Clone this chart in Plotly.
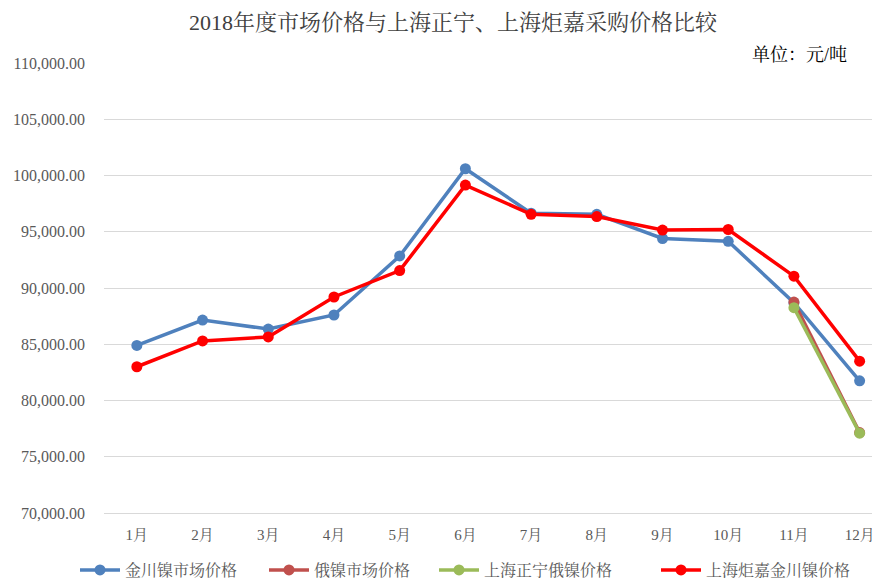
import plotly.graph_objects as go

months = ["1月", "2月", "3月", "4月", "5月", "6月", "7月", "8月", "9月", "10月", "11月", "12月"]
jinchuan_market = [84900, 87150, 86350, 87600, 92850, 100600, 96650, 96550, 94400, 94150, 88700, 81750]
russia_market = [None, None, None, None, None, None, None, None, None, None, 88750, 77150]
zhengning_russia = [None, None, None, None, None, None, None, None, None, None, 88250, 77100]
juja_jinchuan = [83000, 85300, 85650, 89200, 91550, 99150, 96550, 96350, 95150, 95200, 91050, 83500]

series = [
    ("金川镍市场价格", jinchuan_market, "#4F81BD"),
    ("俄镍市场价格", russia_market, "#C0504D"),
    ("上海正宁俄镍价格", zhengning_russia, "#9BBB59"),
    ("上海炬嘉金川镍价格", juja_jinchuan, "#FF0000"),
]
legend_ids = ["legend", "legend2", "legend3", "legend4"]
legend_starts = [80, 269, 439, 661]

serif = "Liberation Serif, Times New Roman, Noto Serif CJK SC, Noto Sans CJK SC, serif"

# page body has an 8px default margin; work in figure coordinates
OFF = 8
W, H = 880 - OFF, 578 - OFF
L, R_EDGE, TOP, BOT = 104 - OFF, 880 - OFF, 63 - OFF, 513 - OFF
PW, PH = R_EDGE - L, BOT - TOP

fig = go.Figure()
for (name, vals, color), lid in zip(series, legend_ids):
    fig.add_trace(go.Scatter(
        x=months, y=vals, name=name, mode="lines+markers",
        line=dict(color=color, width=3.5),
        marker=dict(color=color, size=11),
        connectgaps=False, legend=lid,
    ))

legend_layout = {}
for lid, sx in zip(legend_ids, legend_starts):
    legend_layout[lid] = dict(
        orientation="h", x=(sx - OFF - 5 - L) / PW, xanchor="left",
        y=-(570 - OFF - BOT) / PH, yanchor="middle",
        font=dict(size=16, color="#595959"), itemwidth=40,
        bgcolor="rgba(0,0,0,0)",
    )

fig.update_layout(
    width=W, height=H,
    margin=dict(l=L, r=W - R_EDGE, t=TOP, b=H - BOT, autoexpand=False),
    paper_bgcolor="white", plot_bgcolor="white",
    font=dict(family=serif, color="#595959", size=15),
    title=dict(text="2018年度市场价格与上海正宁、上海炬嘉采购价格比较",
               x=(453 - OFF) / W, xanchor="center", y=1 - (22 - OFF) / H, yanchor="middle",
               font=dict(size=22, color="#404040", family=serif)),
    showlegend=True,
    xaxis=dict(type="category", range=[-0.5, 11.31], showgrid=False,
               showline=True, linecolor="#d9d9d9", linewidth=1, automargin=False,
               ticks="", ticklabelstandoff=8, tickfont=dict(size=15)),
    yaxis=dict(range=[70000, 110000], dtick=5000, tickformat=",.2f",
               showgrid=True, gridcolor="#d9d9d9", gridwidth=1, automargin=False,
               zeroline=False, showline=False, ticks="",
               ticklabelstandoff=18, tickfont=dict(size=16)),
    annotations=[dict(text="单位：元/吨", xref="paper", yref="paper",
                      x=(849 - OFF - L) / PW, xanchor="right",
                      y=(BOT - (55 - OFF)) / PH, yanchor="middle",
                      showarrow=False, font=dict(size=18, color="#000000", family=serif))],
    **legend_layout,
)

fig.write_html("out.html")
